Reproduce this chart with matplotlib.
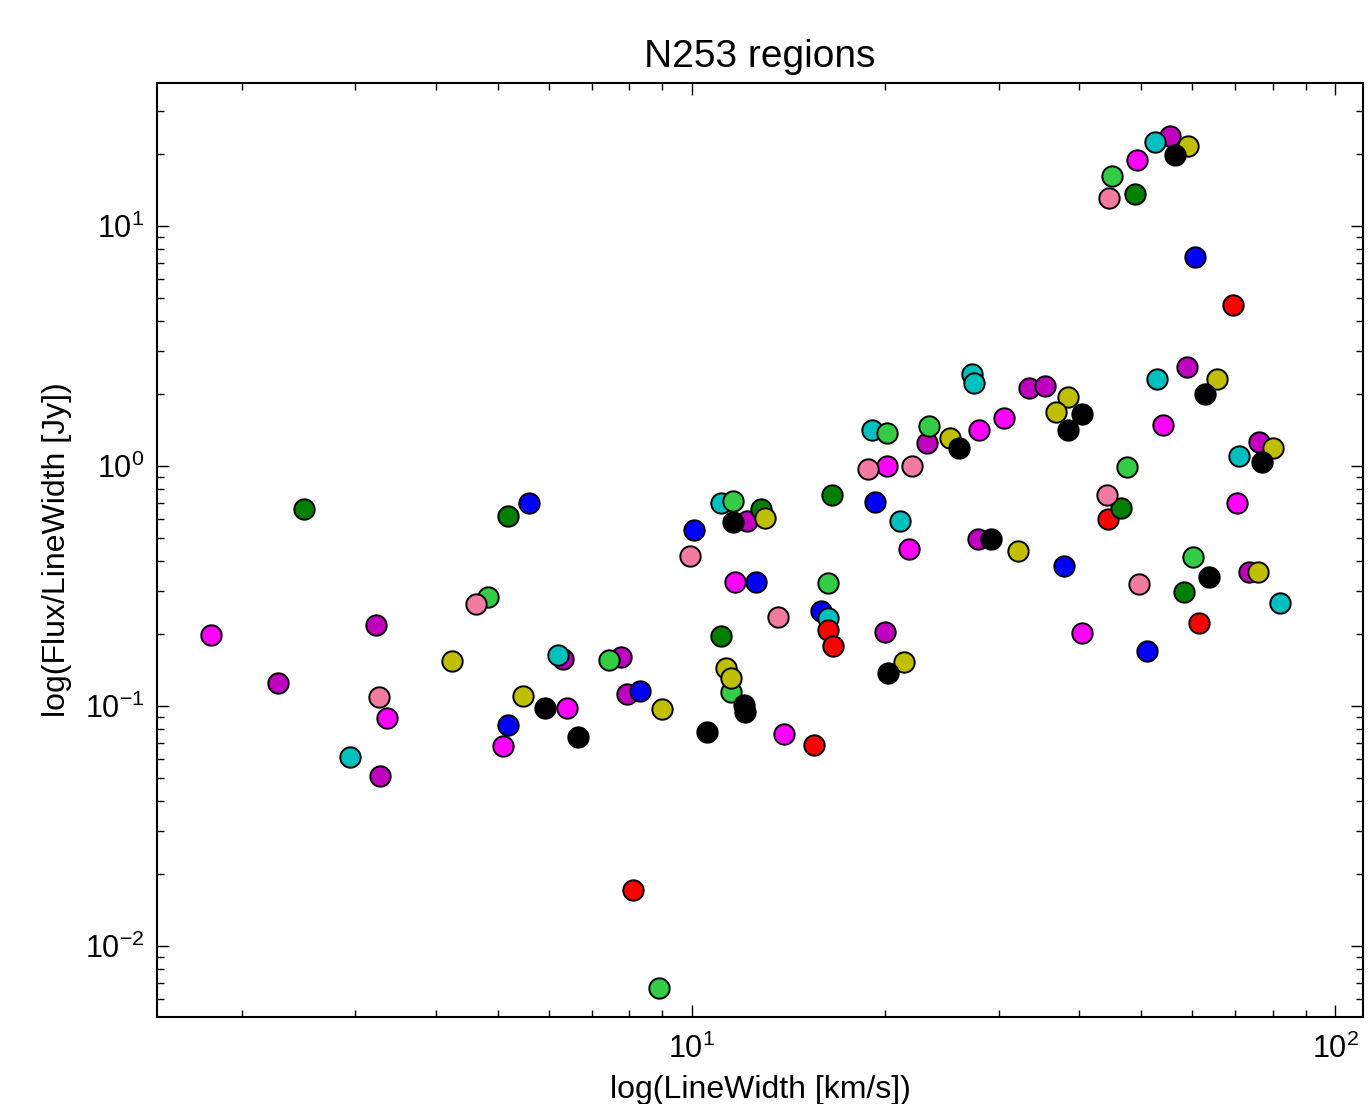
import matplotlib
matplotlib.use("Agg")
import matplotlib.pyplot as plt

# === FONT SETUP ===
plt.rcParams['font.family'] = ['Liberation Sans', 'DejaVu Sans']
plt.rcParams['mathtext.default'] = 'regular'
plt.rcParams['axes.unicode_minus'] = False

# === DATA (one list pair per colour) ===
magenta_x = [1.79, 3.36, 5.10, 6.40, 11.7, 13.9, 21.8, 30.6, 28.0, 20.1, 54.0, 70.4, 40.4, 49.2]
magenta_y = [0.198, 0.089, 0.068, 0.098, 0.329, 0.0764, 0.451, 1.585, 1.41, 1.0, 1.48, 0.701, 0.201, 18.8]

purple_x = [2.28, 3.23, 3.28, 6.32, 7.76, 7.95, 12.2, 19.95, 33.4, 35.4, 23.2, 27.9, 58.9, 76.2, 73.5, 55.4]
purple_y = [0.125, 0.218, 0.0511, 0.157, 0.160, 0.112, 0.590, 0.203, 2.11, 2.15, 1.25, 0.496, 2.59, 1.26, 0.362, 23.7]

blue_x = [5.58, 5.18, 8.30, 10.07, 12.6, 15.9, 19.3, 37.9, 51.0, 60.6]
blue_y = [0.701, 0.0833, 0.1155, 0.541, 0.329, 0.249, 0.708, 0.383, 0.1695, 7.43]

cyan_x = [2.95, 6.19, 11.1, 16.3, 21.1, 27.3, 27.5, 19.05, 52.9, 70.9, 82.1, 52.5]
cyan_y = [0.0613, 0.163, 0.701, 0.233, 0.590, 2.42, 2.22, 1.41, 2.30, 1.10, 0.269, 22.4]

green_x = [4.83, 7.43, 11.6, 11.5, 16.3, 20.1, 23.4, 47.5, 60.1, 45.0, 8.89]
green_y = [0.285, 0.155, 0.715, 0.114, 0.326, 1.37, 1.47, 0.99, 0.418, 16.2, 0.00668]

red_x = [16.3, 16.6, 15.5, 44.4, 61.4, 69.4, 8.12]
red_y = [0.207, 0.178, 0.0688, 0.601, 0.222, 4.69, 0.0171]

dkgreen_x = [2.50, 5.19, 12.8, 16.5, 11.1, 46.5, 58.2, 48.9]
dkgreen_y = [0.662, 0.619, 0.662, 0.757, 0.196, 0.668, 0.299, 13.6]

pink_x = [4.63, 3.27, 9.96, 13.6, 18.8, 22.0, 44.2, 49.6, 44.5]
pink_y = [0.266, 0.109, 0.422, 0.235, 0.972, 1.0, 0.757, 0.322, 13.1]

olive_x = [4.24, 5.48, 9.01, 13.0, 11.3, 11.5, 21.4, 38.4, 36.8, 25.2, 32.1, 65.5, 80.1, 75.9, 59.1]
olive_y = [0.154, 0.110, 0.0972, 0.607, 0.144, 0.131, 0.153, 1.94, 1.68, 1.31, 0.442, 2.30, 1.19, 0.362, 21.5]

black_x = [5.91, 6.67, 11.6, 12.05, 12.1, 10.55, 20.2, 40.4, 38.4, 26.0, 29.2, 62.8, 77.0, 63.7, 56.4]
black_y = [0.098, 0.0743, 0.584, 0.101, 0.0944, 0.078, 0.137, 1.65, 1.41, 1.19, 0.496, 1.995, 1.04, 0.345, 19.8]

groups = [
    (purple_x, purple_y, '#bf00bf'),
    (magenta_x, magenta_y, '#ff00ff'),
    (blue_x, blue_y, '#0000ff'),
    (cyan_x, cyan_y, '#00bfbf'),
    (green_x, green_y, '#33cc44'),
    (red_x, red_y, '#ff0000'),
    (dkgreen_x, dkgreen_y, '#007f00'),
    (pink_x, pink_y, '#f37aa0'),
    (olive_x, olive_y, '#bfbf00'),
    (black_x, black_y, '#000000'),
]

# === PLOT ===
fig = plt.figure(figsize=(13.68, 11.04), dpi=100)
ax = fig.add_axes([0.1148, 0.0788, 0.8816, 0.8460])

for xs, ys, col in groups:
    ax.scatter(xs, ys, s=215, c=col, edgecolors='black', linewidths=1.4, zorder=3)

ax.set_xscale('log')
ax.set_yscale('log')
ax.set_xlim(1.477, 110.5)
ax.set_ylim(0.00506, 39.4)

ax.set_title("N253 regions", fontsize=28, pad=11.5)
ax.set_xlabel("log(LineWidth [km/s])", fontsize=23, labelpad=7)
ax.set_ylabel("log(Flux/LineWidth [Jy])", fontsize=23, labelpad=9)

ax.tick_params(which='both', direction='in', top=True, right=True, labelsize=22)
ax.tick_params(which='major', length=8.5, width=1, pad=9)
ax.tick_params(axis='x', which='major', pad=12)
ax.tick_params(which='minor', length=5, width=1)
for sp in ax.spines.values():
    sp.set_linewidth(1.5)

fig.savefig("out.png", dpi=100)
